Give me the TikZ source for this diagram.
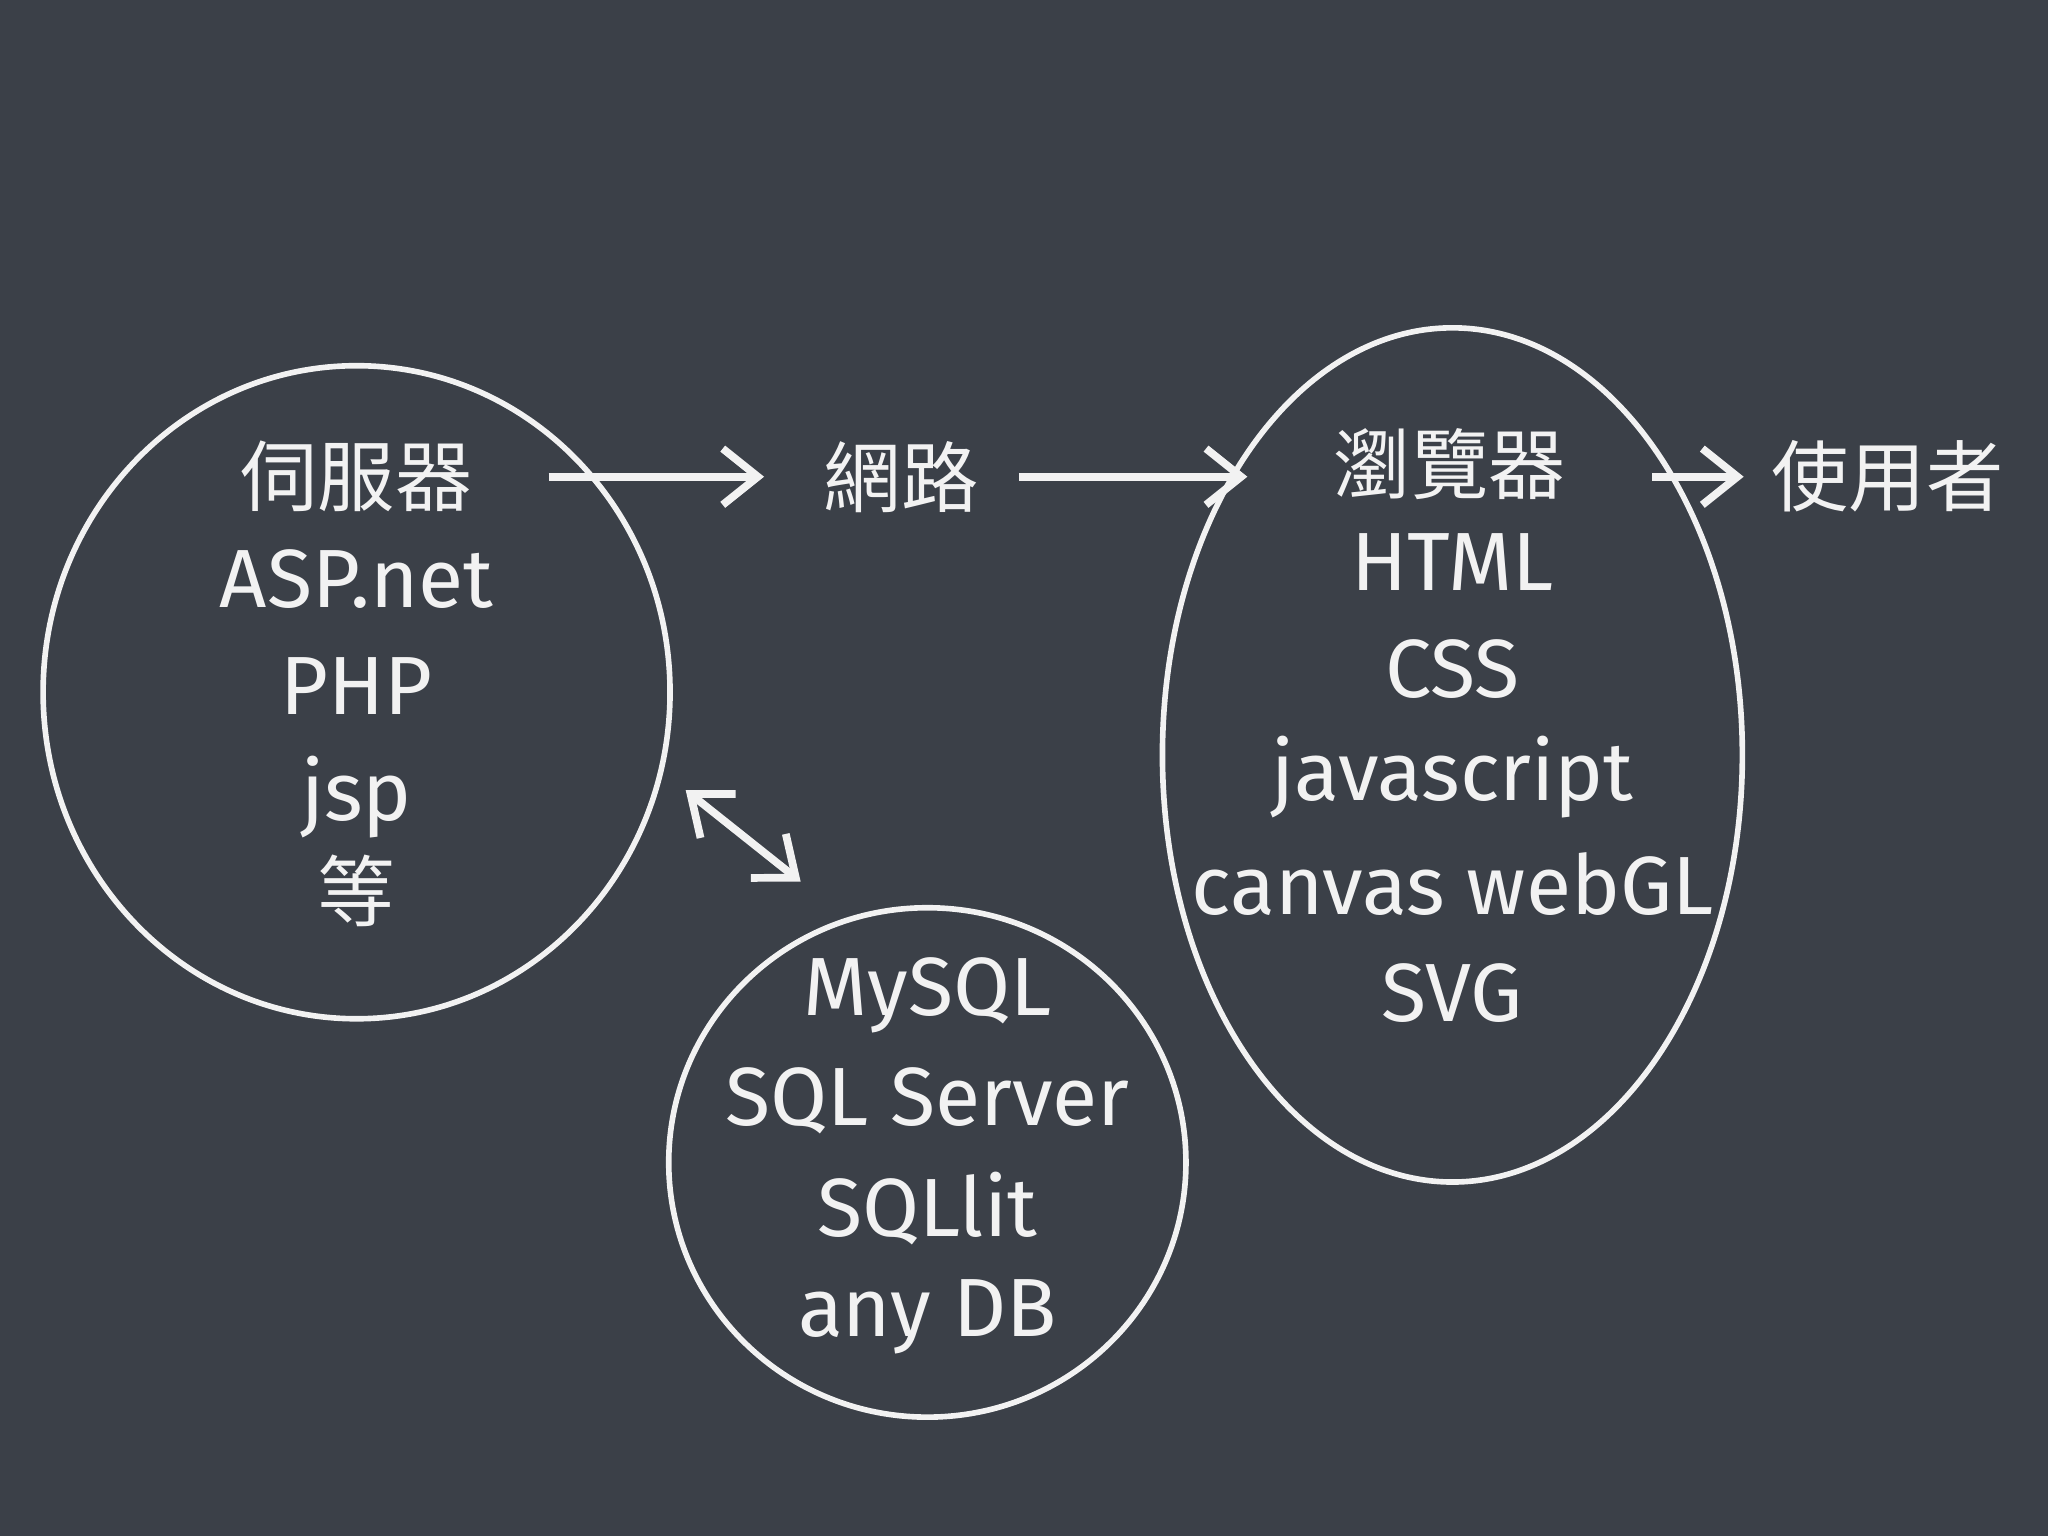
\documentclass[tikz,border=0pt]{standalone}
\usepackage{fontspec}
\setmainfont{Fira Sans}
\newfontfamily\cjk{Noto Sans CJK TC}
\usetikzlibrary{arrows.meta}
\definecolor{board}{HTML}{3B4048}
\definecolor{chalk}{HTML}{F2F2F2}
\tikzset{
  chalkline/.style={draw=chalk,line width=1.6pt},
  arr/.style={draw=chalk,line width=2.2pt,-{Straight Barb[length=10pt,width=16pt]}},
  dblarr/.style={draw=chalk,line width=2.2pt,{Straight Barb[length=10pt,width=16pt]}-{Straight Barb[length=10pt,width=16pt]}},
  lbl/.style={text=chalk,font=\fontsize{23.5}{28}\selectfont,inner sep=1pt},
  clbl/.style={text=chalk,font=\cjk\fontsize{22}{26}\selectfont,inner sep=1pt}
}
\begin{document}
\begin{tikzpicture}[x=0.013061cm,y=-0.013061cm]
\fill[board] (0,0) rectangle (1568,1176);
\useasboundingbox (0,0) rectangle (1568,1176);
\draw[chalkline] (273,530) ellipse [x radius=240,y radius=250];
\draw[chalkline] (710,890) ellipse [x radius=198,y radius=195];
\draw[chalkline] (1112,578) ellipse [x radius=222,y radius=327];
\node[clbl] (srv) at (273,365) {伺服器};
\node[lbl] (asp) at (273,443) {ASP.net};
\node[lbl] (php) at (273,525) {PHP};
\node[lbl] (jsp) at (273,610) {jsp};
\node[clbl] (etc) at (273,682) {等};
\node[clbl] (net) at (690,365) {網路};
\node[clbl] (brw) at (1110,355) {瀏覽器};
\node[lbl] at (1112,430) {HTML};
\node[lbl] at (1112,512) {CSS};
\node[lbl] at (1112,595) {javascript};
\node[lbl] at (1112,677) {canvas webGL};
\node[lbl] at (1112,760) {SVG};
\node[clbl] (usr) at (1445,365) {使用者};
\node[lbl] (db) at (710,762) {MySQL};
\node[lbl] at (710,843) {SQL Server};
\node[lbl] at (710,925) {SQLlit};
\node[lbl] at (710,1008) {any DB};
\coordinate (a1) at (420,365); \coordinate (a2) at (585,365);
\coordinate (b1) at (780,365); \coordinate (b2) at (955,365);
\coordinate (c1) at (1265,365); \coordinate (c2) at (1335,365);
\coordinate (d1) at (525,605); \coordinate (d2) at (613,675);
\draw[arr] (a1) -- (a2);
\draw[arr] (b1) -- (b2);
\draw[arr] (c1) -- (c2);
\draw[dblarr] (d1) -- (d2);
\end{tikzpicture}
\end{document}
